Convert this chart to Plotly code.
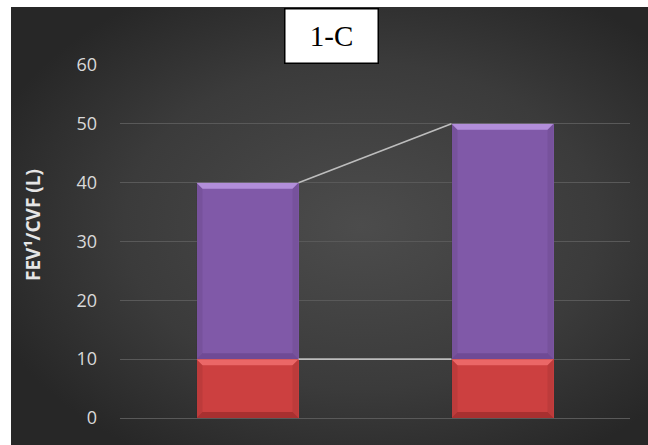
import base64
import plotly.graph_objects as go

# Measurements for the two groups (stacked: base + upper segment)
groups = ["A", "B"]
base_values = [10, 10]
upper_values = [30, 40]
y_ticks = [0, 10, 20, 30, 40, 50, 60]
panel_title = "1-C"
y_title = "FEV¹/CVF (L)"

W, H = 648, 445
M_L, M_R, M_T, M_B = 120, 18, 65, 27
BAR_W = 0.4

RED = "#cc4040"
PURPLE = "#8059a8"

xs = list(range(len(groups)))
totals = [b + u for b, u in zip(base_values, upper_values)]

plot_w = W - M_L - M_R
plot_h = H - M_T - M_B


def px_to_paper_x(px):
    return (px - M_L) / plot_w


def px_to_paper_y(py):
    return (H - M_B - py) / plot_h


fig = go.Figure()

fig.add_trace(go.Bar(x=xs, y=base_values, width=BAR_W,
                     marker=dict(color=RED, line=dict(width=0)),
                     hoverinfo="skip"))
fig.add_trace(go.Bar(x=xs, y=upper_values, width=BAR_W,
                     marker=dict(color=PURPLE, line=dict(width=0)),
                     hoverinfo="skip"))

# Series lines joining the segment tops of neighbouring bars
for level in (base_values, totals):
    for i in range(len(xs) - 1):
        fig.add_trace(go.Scatter(
            x=[xs[i] + BAR_W / 2, xs[i + 1] - BAR_W / 2],
            y=[level[i], level[i + 1]],
            mode="lines", line=dict(color="#bdbdbd", width=1.6),
            hoverinfo="skip"))

# Soft bevel on each bar segment
y_per_px = (y_ticks[-1] - y_ticks[0]) / plot_h
x_per_px = 2.0 / plot_w
dx = 6 * x_per_px
dy = 6 * y_per_px
shapes = []
segments = []
for i, x in enumerate(xs):
    segments.append((x, 0, base_values[i], "rgba(255,130,130,0.6)", "rgba(100,20,20,0.35)"))
    segments.append((x, base_values[i], totals[i], "rgba(200,165,240,0.7)", "rgba(60,30,90,0.25)"))
for x, y0, y1, light, dark in segments:
    x0, x1 = x - BAR_W / 2, x + BAR_W / 2
    shapes.append(dict(type="path", xref="x", yref="y", layer="above", line=dict(width=0),
                       fillcolor=light,
                       path=f"M{x0},{y1} L{x1},{y1} L{x1 - dx},{y1 - dy} L{x0 + dx},{y1 - dy} Z"))
    shapes.append(dict(type="path", xref="x", yref="y", layer="above", line=dict(width=0),
                       fillcolor=dark,
                       path=f"M{x0},{y0} L{x1},{y0} L{x1 - dx},{y0 + dy} L{x0 + dx},{y0 + dy} Z"))
    side = "rgba(0,0,0,0.07)"
    shapes.append(dict(type="path", xref="x", yref="y", layer="above", line=dict(width=0),
                       fillcolor=side,
                       path=f"M{x0},{y0} L{x0 + dx},{y0 + dy} L{x0 + dx},{y1 - dy} L{x0},{y1} Z"))
    shapes.append(dict(type="path", xref="x", yref="y", layer="above", line=dict(width=0),
                       fillcolor=side,
                       path=f"M{x1},{y0} L{x1 - dx},{y0 + dy} L{x1 - dx},{y1 - dy} L{x1},{y1} Z"))

# Dark radial-gradient chart background
bg_left, bg_top = 11, 7
bg_w, bg_h = W - bg_left, H - bg_top
svg = f"""<svg xmlns='http://www.w3.org/2000/svg' width='{bg_w}' height='{bg_h}' viewBox='0 0 {bg_w} {bg_h}' preserveAspectRatio='none'>
<defs><radialGradient id='g' cx='0.55' cy='0.5' r='0.62' gradientUnits='objectBoundingBox'>
<stop offset='0' stop-color='#4c4c4c'/><stop offset='0.6' stop-color='#3b3b3b'/><stop offset='1' stop-color='#272727'/>
</radialGradient></defs>
<rect width='{bg_w}' height='{bg_h}' fill='url(#g)'/></svg>"""
svg_uri = "data:image/svg+xml;base64," + base64.b64encode(svg.encode()).decode()

fig.update_layout(
    width=W, height=H,
    margin=dict(l=M_L, r=M_R, t=M_T, b=M_B, pad=0),
    paper_bgcolor="white", plot_bgcolor="rgba(0,0,0,0)",
    barmode="stack", bargap=0, showlegend=False,
    images=[dict(source=svg_uri, xref="paper", yref="paper",
                 x=px_to_paper_x(bg_left), y=px_to_paper_y(bg_top),
                 sizex=bg_w / plot_w, sizey=bg_h / plot_h,
                 xanchor="left", yanchor="top", sizing="stretch", layer="below")],
    shapes=shapes,
    xaxis=dict(range=[-0.5, len(groups) - 0.5], showticklabels=False, showgrid=False,
               zeroline=False, showline=False, ticks=""),
    yaxis=dict(range=[y_ticks[0], y_ticks[-1]], tickvals=y_ticks, showgrid=True,
               gridcolor="#595959", gridwidth=1, zeroline=True, zerolinecolor="#595959",
               zerolinewidth=1, showline=False, ticks="", ticklabelstandoff=22,
               tickfont=dict(family="Open Sans", size=18, color="#d9d9d9")),
    annotations=[
        dict(text=panel_title, xref="paper", yref="paper",
             x=px_to_paper_x(331), y=px_to_paper_y(8), xanchor="center", yanchor="top",
             showarrow=False, font=dict(family="Liberation Serif", size=29, color="black"),
             bgcolor="white", bordercolor="black", borderwidth=1.5, borderpad=0,
             width=92, height=53, valign="middle"),
        dict(text=f"<b>{y_title}</b>", xref="paper", yref="paper",
             x=px_to_paper_x(33), y=px_to_paper_y(225), xanchor="center", yanchor="middle",
             textangle=-90, showarrow=False,
             font=dict(family="Open Sans", size=19, color="#e6e6e6")),
    ],
)

fig.write_html("out.html")
